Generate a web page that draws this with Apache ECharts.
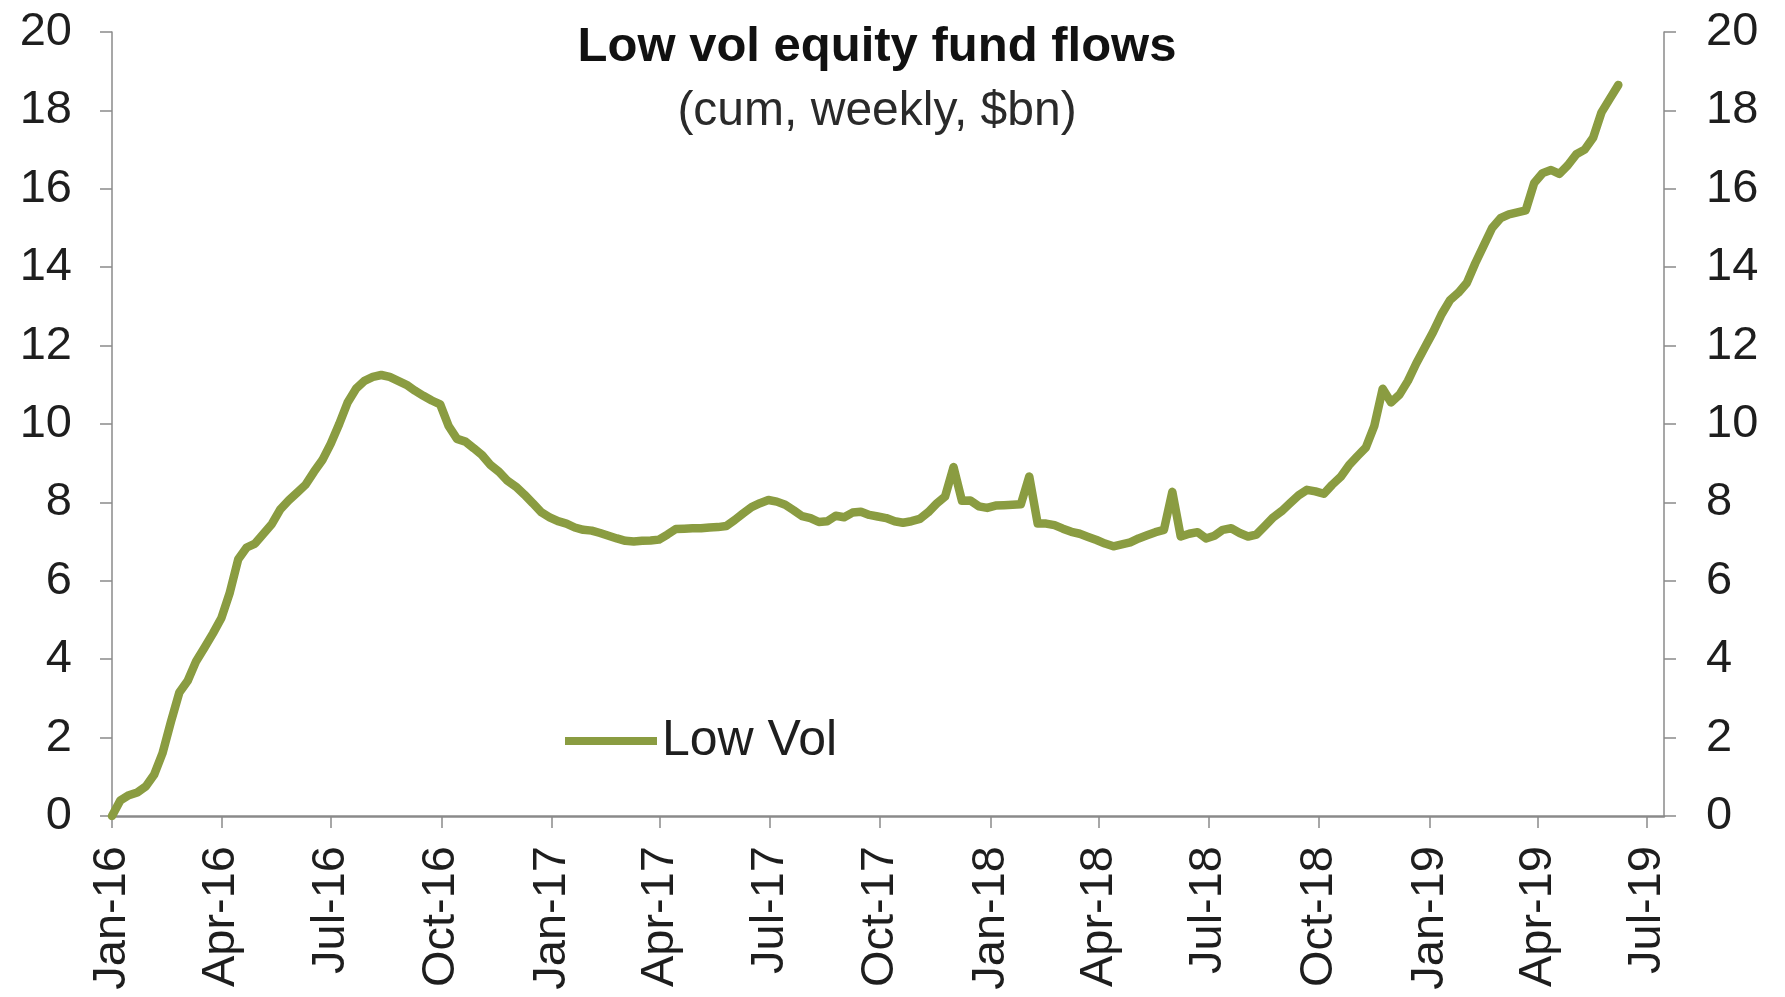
<!DOCTYPE html>
<html>
<head>
<meta charset="utf-8">
<script src="https://cdn.jsdelivr.net/npm/echarts@6/dist/echarts.min.js"></script>
<style>
  html, body { margin: 0; padding: 0; background: #ffffff; }
  #chart { width: 1785px; height: 997px; }
</style>
</head>
<body>
<div id="chart"></div>
<script>
// ---- Data ----
const titleText = 'Low vol equity fund flows';
const subtitleText = '(cum, weekly, $bn)';
const seriesName = 'Low Vol';
const firstWeek = [2016, 0, 1];          // first weekly observation (y, m0, d)
const lowVol = [
  0.00, 0.40, 0.53, 0.60, 0.75, 1.05, 1.60, 2.40, 3.15, 3.45,
  3.95, 4.30, 4.66, 5.05, 5.70, 6.55, 6.85, 6.95, 7.20, 7.45,
  7.82, 8.05, 8.25, 8.45, 8.78, 9.08, 9.50, 10.00, 10.55, 10.90,
  11.10, 11.20, 11.25, 11.20, 11.10, 11.00, 10.85, 10.72, 10.60, 10.50,
  9.95, 9.62, 9.55, 9.38, 9.20, 8.95, 8.78, 8.55, 8.40, 8.20,
  7.98, 7.75, 7.62, 7.52, 7.46, 7.36, 7.30, 7.28, 7.22, 7.15,
  7.08, 7.02, 7.00, 7.02, 7.03, 7.05, 7.18, 7.32, 7.33, 7.34,
  7.34, 7.36, 7.37, 7.40, 7.55, 7.72, 7.88, 7.98, 8.06, 8.02,
  7.94, 7.80, 7.65, 7.60, 7.50, 7.52, 7.66, 7.62, 7.74, 7.76,
  7.68, 7.64, 7.60, 7.52, 7.48, 7.52, 7.58, 7.75, 7.97, 8.15,
  8.90, 8.04, 8.05, 7.90, 7.86, 7.92, 7.93, 7.94, 7.95, 8.66,
  7.46, 7.46, 7.42, 7.33, 7.25, 7.20, 7.12, 7.04, 6.95, 6.88,
  6.93, 6.98, 7.08, 7.16, 7.24, 7.30, 8.27, 7.13, 7.20, 7.24,
  7.08, 7.15, 7.30, 7.34, 7.22, 7.13, 7.18, 7.40, 7.62, 7.78,
  7.98, 8.18, 8.32, 8.28, 8.22, 8.45, 8.65, 8.95, 9.18, 9.40,
  9.95, 10.90, 10.55, 10.75, 11.10, 11.55, 11.95, 12.35, 12.80, 13.16,
  13.35, 13.60, 14.10, 14.55, 15.00, 15.25, 15.35, 15.40, 15.45, 16.15,
  16.40, 16.48, 16.38, 16.60, 16.88, 17.00, 17.30, 17.95, 18.30, 18.65
];
const axisStart = [2016, 0, 1];
const axisEnd = [2019, 6, 15];
const tickMonths = [
  [2016, 0], [2016, 3], [2016, 6], [2016, 9],
  [2017, 0], [2017, 3], [2017, 6], [2017, 9],
  [2018, 0], [2018, 3], [2018, 6], [2018, 9],
  [2019, 0], [2019, 3], [2019, 6]
];
const monthNames = ['Jan','Feb','Mar','Apr','May','Jun','Jul','Aug','Sep','Oct','Nov','Dec'];
const yMin = 0, yMax = 20, yStep = 2;

// ---- Build ----
const DAY = 86400000;
const t0 = Date.UTC(firstWeek[0], firstWeek[1], firstWeek[2]);
const seriesData = lowVol.map((v, i) => [t0 + i * 7 * DAY, v]);
const tickValues = tickMonths.map(([y, m]) => Date.UTC(y, m, 1));
const fmtDate = (val) => {
  const d = new Date(val);
  return monthNames[d.getUTCMonth()] + '-' + String(d.getUTCFullYear()).slice(2);
};

const FONT = '"Liberation Sans", Arial, Helvetica, sans-serif';
const TXT = '#1e1e1e';
const AXIS = '#8a8a8a';
const GREEN = '#8a9c41';

const yAxisCommon = {
  type: 'value', min: yMin, max: yMax, interval: yStep,
  axisLine: { show: true, lineStyle: { color: AXIS, width: 1.5 } },
  axisTick: { show: true, inside: false, length: 12, lineStyle: { color: AXIS, width: 1.5 } },
  splitLine: { show: false },
  axisLabel: { color: TXT, fontFamily: FONT, fontSize: 47, margin: 40 }
};

const chart = echarts.init(document.getElementById('chart'), null, { renderer: 'canvas' });
chart.setOption({
  backgroundColor: '#ffffff',
  animation: false,
  grid: { left: 112, right: 121, top: 32, bottom: 181, containLabel: false },
  graphic: [
    { type: 'text', x: 877, y: 47, style: { text: titleText, fill: '#111', font: 'bold 49px ' + FONT, textAlign: 'center', textVerticalAlign: 'middle' } },
    { type: 'text', x: 877, y: 112, style: { text: subtitleText, fill: '#2a2a2a', font: '48px ' + FONT, textAlign: 'center', textVerticalAlign: 'middle' } }
  ],
  legend: {
    data: [seriesName],
    left: 560, top: 711,
    icon: 'rect', itemWidth: 92, itemHeight: 8, itemGap: 10,
    textStyle: { color: TXT, fontFamily: FONT, fontSize: 50 }
  },
  xAxis: {
    type: 'value',
    min: Date.UTC(axisStart[0], axisStart[1], axisStart[2]),
    max: Date.UTC(axisEnd[0], axisEnd[1], axisEnd[2]),
    axisLine: { show: true, onZero: true, lineStyle: { color: AXIS, width: 2.5 } },
    axisTick: { show: true, inside: false, length: 12, customValues: tickValues, lineStyle: { color: AXIS, width: 1.5 } },
    splitLine: { show: false },
    axisLabel: {
      customValues: tickValues, rotate: 90, margin: 30,
      color: TXT, fontFamily: FONT, fontSize: 47,
      formatter: (val) => fmtDate(val)
    }
  },
  yAxis: [
    Object.assign({ position: 'left' }, yAxisCommon),
    Object.assign({ position: 'right' }, yAxisCommon, { axisLabel: Object.assign({}, yAxisCommon.axisLabel, { margin: 42 }) })
  ],
  series: [{
    name: seriesName,
    type: 'line',
    data: seriesData,
    showSymbol: false,
    symbol: 'none',
    smooth: false,
    lineStyle: { color: GREEN, width: 8.5, join: 'round', cap: 'round' },
    itemStyle: { color: GREEN }
  }]
});
</script>
</body>
</html>
